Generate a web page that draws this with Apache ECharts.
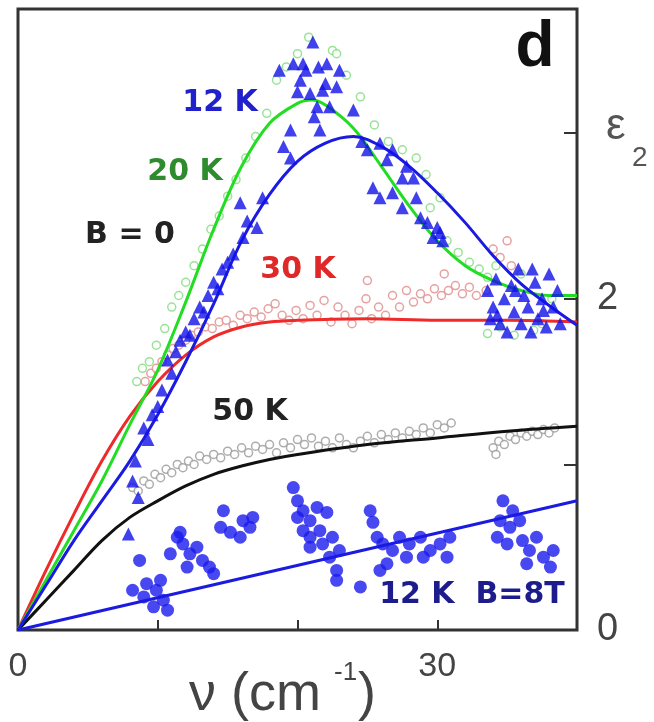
<!DOCTYPE html>
<html>
<head>
<meta charset="utf-8">
<script src="https://cdn.jsdelivr.net/npm/echarts@6/dist/echarts.min.js"></script>
<style>
html,body{margin:0;padding:0;background:#fff;}
#chart{width:654px;height:722px;}
</style>
</head>
<body>
<div id="chart"></div>
<script>
// ---- axis settings ----
const xTickLabels = ['0', '30'];
const yTickLabels = ['0', '2'];

// ---- fitted curves (x, eps2) ----
const fit12K = [[0,0],[2,0.27],[4,0.54],[6,0.78],[8,1.02],[10,1.3],[12,1.62],[14,1.97],[16,2.35],[18,2.63],[20,2.83],[22,2.94],[24,2.98],[26,2.92],[28,2.8],[30,2.64],[32,2.46],[34,2.26],[36,2.09],[38,1.96],[40,1.84]];
const fit20K = [[0,0],[2,0.3],[4,0.6],[6,0.9],[8,1.24],[10,1.57],[12,1.98],[14,2.42],[16,2.8],[18,3.06],[20,3.18],[21,3.2],[22,3.17],[24,3.03],[26,2.8],[28,2.56],[30,2.35],[32,2.2],[34,2.11],[36,2.05],[38,2.02],[40,2.02]];
const fit30K = [[0,0],[2,0.36],[4,0.7],[6,1.02],[8,1.29],[10,1.5],[12,1.66],[14,1.77],[16,1.83],[18,1.86],[20,1.87],[25,1.88],[30,1.87],[35,1.87],[40,1.86]];
const fit50K = [[0,0],[2,0.18],[4,0.36],[6,0.54],[8,0.68],[10,0.78],[12,0.87],[14,0.94],[16,0.99],[18,1.03],[20,1.06],[25,1.12],[30,1.16],[35,1.2],[40,1.23]];
const fit12K8T = [[0,0],[40,0.78]];

// ---- measured points ----
const pts12K = [[7.9,0.58],[8.2,0.9],[8.6,0.8],[8.4,1.02],[9.3,1.15],[9.0,1.22],[9.6,1.3],[10.0,1.35],[10.3,1.45],[10.7,1.63],[11.0,1.55],[11.3,1.68],[11.6,1.75],[12.0,1.8],[12.3,1.78],[12.6,1.88],[13.0,1.95],[13.3,1.92],[13.6,2.02],[14.0,2.1],[14.3,2.06],[14.6,2.18],[15.0,2.22],[15.4,2.27],[15.9,2.58],[16.1,2.37],[16.4,2.47],[17.1,2.43],[17.5,2.61],[19.0,2.92],[19.5,2.85],[19.5,3.02],[21.6,3.02],
  [18.7,3.38],[19.7,3.42],[20.4,3.42],[21.1,3.55],[22.1,3.42],[23.0,3.38],[20.2,3.32],[20.9,3.24],[21.8,3.26],[22.8,3.28],[21.4,3.16],[22.3,3.16],[24.0,3.14],[20.6,3.38],[21.5,3.4],[22.0,3.3],[20.0,3.25],[21.2,3.1],
  [25.0,2.9],[25.9,2.94],[26.8,2.9],[26.4,2.84],[27.8,2.8],[27.5,2.73],[28.3,2.73],[25.4,2.67],[25.9,2.61],[26.8,2.64],[27.5,2.55],[28.5,2.61],[28.8,2.49],[29.3,2.46],[30.0,2.43],[30.2,2.4],[30.4,2.35],[29.7,2.37],[24.6,2.95],
  [33.6,2.05],[34.0,1.95],[34.2,2.12],[34.5,1.85],[34.8,2.0],[35.0,1.8],[35.3,2.08],[35.5,1.92],[35.8,2.18],[36.0,1.85],[36.2,2.02],[36.5,1.95],[36.7,1.8],[37.0,2.1],[37.2,1.88],[37.5,2.0],[37.8,1.83],[38.0,2.15],[38.3,1.95],[38.6,2.05],[34.3,1.9],[35.6,2.05],[36.8,2.18],[33.8,1.88],[37.6,1.93],[38.8,1.85]];
const pts20K = [[8.5,1.5],[8.9,1.58],[9.4,1.62],[9.9,1.72],[10.5,1.82],[11.0,1.95],[11.5,2.02],[12.0,2.1],[12.6,2.2],[13.2,2.3],[13.8,2.42],[14.4,2.5],[15.0,2.62],[15.6,2.72],[16.3,2.85],[17.0,2.98],[17.8,3.12],[18.5,3.32],[19.2,3.4],[20.0,3.48],[20.8,3.58],[22.5,3.5],[22.8,3.48],[23.5,3.35],[24.5,3.22],[25.5,3.05],[26.5,2.95],[27.5,2.9],[28.5,2.85],[29.2,2.75],[29.5,2.55],[30.2,2.61],[30.7,2.35],[31.5,2.28],[32.3,2.22],[33.0,2.18],[33.6,2.13],[33.6,1.79],[34.5,1.83],[35.5,1.78],[36.9,1.81],[37.5,1.85],[38.2,2.0],[34.2,2.2],[36.0,2.15]];
const pts30K = [[9.1,1.5],[9.5,1.55],[9.9,1.58],[10.3,1.62],[10.7,1.66],[11.1,1.7],[11.5,1.72],[12.0,1.75],[12.4,1.78],[12.9,1.8],[13.4,1.83],[13.9,1.82],[14.4,1.86],[14.9,1.87],[15.4,1.84],[15.9,1.9],[16.4,1.88],[16.9,1.92],[17.4,1.89],[17.9,1.94],[18.4,1.97],[18.9,1.9],[19.4,1.87],[19.9,1.93],[20.4,1.88],[20.9,1.96],[21.4,1.9],[21.9,1.99],[22.4,1.86],[22.9,1.95],[23.4,1.9],[23.9,1.85],[24.4,1.93],[24.9,2.0],[25.3,1.88],[25.8,1.95],[26.3,1.9],[26.8,2.02],[27.3,1.95],[27.8,2.05],[28.3,1.98],[28.8,2.03],[29.3,2.0],[29.8,2.06],[30.3,2.02],[30.5,2.15],[30.8,2.05],[31.3,2.08],[31.8,2.03],[32.3,2.07],[32.8,2.02],[25.0,2.11],[34.0,2.3],[34.5,2.25],[35.0,2.35],[35.3,2.2],[33.5,2.05]];
const pts50K = [[8.2,0.86],[8.6,0.84],[9.0,0.9],[9.4,0.88],[9.8,0.94],[10.2,0.92],[10.6,0.97],[11.0,0.95],[11.4,1.0],[11.8,0.98],[12.2,1.02],[12.6,1.0],[13.0,1.05],[13.5,1.03],[14.0,1.06],[14.5,1.04],[15.0,1.08],[15.5,1.06],[16.0,1.1],[16.5,1.07],[17.0,1.11],[17.5,1.09],[18.0,1.12],[18.5,1.07],[19.0,1.13],[19.5,1.1],[20.0,1.15],[20.5,1.12],[21.0,1.16],[21.5,1.11],[22.0,1.14],[22.5,1.1],[23.0,1.16],[23.5,1.12],[24.0,1.1],[24.5,1.14],[25.0,1.17],[25.5,1.13],[26.0,1.18],[26.5,1.15],[27.0,1.19],[27.5,1.16],[28.0,1.2],[28.5,1.18],[29.0,1.22],[29.5,1.19],[30.0,1.24],[30.5,1.22],[31.0,1.25],[34.0,1.1],[34.4,1.14],[34.8,1.12],[35.2,1.17],[35.6,1.15],[36.0,1.19],[36.4,1.17],[36.8,1.2],[37.2,1.18],[37.6,1.21],[38.0,1.19],[38.4,1.22],[34.2,1.06]];
const pts12K8T = [[8.2,0.24],[9.2,0.28],[9.9,0.24],[10.4,0.18],[9.7,0.14],[10.7,0.12],[9.0,0.2],[10.2,0.3],[8.7,0.42],
  [10.9,0.46],[11.4,0.56],[11.8,0.52],[12.3,0.46],[12.8,0.5],[13.2,0.42],[13.7,0.38],[14.0,0.34],[12.1,0.38],[11.6,0.59],
  [14.7,0.72],[14.5,0.62],[15.2,0.59],[15.9,0.56],[16.6,0.62],[16.8,0.68],[16.1,0.66],
  [19.7,0.86],[20.0,0.78],[20.4,0.72],[20.0,0.68],[20.9,0.66],[21.4,0.74],[22.1,0.71],[21.6,0.6],[20.9,0.56],[21.8,0.52],[22.5,0.56],[23.0,0.48],[22.3,0.44],[22.8,0.36],[22.8,0.3],[20.9,0.5],[20.4,0.6],
  [24.5,0.26],[25.9,0.36],[26.4,0.4],[25.2,0.72],[25.4,0.65],[25.7,0.56],[26.1,0.52],[26.8,0.48],[27.3,0.56],[28.0,0.52],[27.8,0.44],[28.8,0.56],[29.5,0.48],[30.2,0.52],[30.9,0.56],[29.0,0.44],[30.7,0.44],
  [34.7,0.78],[34.5,0.66],[35.2,0.62],[35.9,0.66],[34.3,0.56],[35.0,0.52],[36.1,0.54],[36.6,0.48],[37.1,0.56],[37.6,0.44],[36.4,0.4],[38.1,0.38],[38.3,0.48],[35.4,0.72]];

const chart = echarts.init(document.getElementById('chart'));
const lab = 'Liberation Sans, Arial, sans-serif';
const bold = 'DejaVu Sans, Liberation Sans, sans-serif';

function line(data, color, z) {
  return {type:'line', data:data, smooth:0.35, showSymbol:false, symbol:'none',
    lineStyle:{color:color, width:3}, z:z||3, silent:true, animation:false};
}
function pts(data, symbol, size, color, z, empty) {
  return {type:'scatter', data:data, symbol:symbol, symbolSize:size, z:z,
    itemStyle: empty ? {color:'#fff', borderColor:color, borderWidth:1.5} : {color:color},
    silent:true, animation:false};
}

chart.setOption({
  animation:false,
  backgroundColor:'#fff',
  grid:{left:18, right:77, top:9, bottom:92, show:true, borderColor:'#333', borderWidth:3, backgroundColor:'transparent'},
  xAxis:{type:'value', min:0, max:40, interval:10, position:'bottom',
    axisLine:{show:false, onZero:false},
    axisTick:{show:true, inside:true, length:10, lineStyle:{color:'#333', width:2}},
    splitLine:{show:false},
    axisLabel:{fontSize:34, color:'#444', fontFamily:lab, margin:20,
      formatter:function(v){ const s=String(v); return xTickLabels.indexOf(s)>=0 ? s : ''; }}
  },
  yAxis:{type:'value', min:0, max:3.75, interval:1, position:'right',
    axisLine:{show:false, onZero:false},
    axisTick:{show:true, inside:true, length:13, lineStyle:{color:'#333', width:2}},
    splitLine:{show:false},
    axisLabel:{fontSize:38, color:'#444', fontFamily:lab, margin:20,
      formatter:function(v){ const s=String(v); return yTickLabels.indexOf(s)>=0 ? s : ''; }}
  },
  series:[
    pts(pts20K, 'circle', 8, '#7fdc7f', 2, true),
    pts(pts30K, 'circle', 8, '#e08a8a', 2, true),
    pts(pts50K, 'circle', 8, '#999999', 2, true),
    pts(pts12K8T, 'circle', 13, '#1a1aee', 2, false),
    line(fit30K, '#ee2a2a', 3),
    line(fit20K, '#22dd22', 3),
    line(fit50K, '#111111', 3),
    line(fit12K, '#1a1ae0', 3),
    line(fit12K8T, '#1a1ae0', 3),
    pts(pts12K, 'triangle', 13, '#1010e8', 4, false)
  ],
  graphic:[
    {type:'text', x:535, y:48, style:{text:'d', font:'bold 64px '+lab, fill:'#111', align:'center', verticalAlign:'middle'}},
    {type:'text', x:220, y:103, style:{text:'12 K', font:'bold 30px '+bold, fill:'#2020cc', align:'center', verticalAlign:'middle'}},
    {type:'text', x:185, y:172, style:{text:'20 K', font:'bold 30px '+bold, fill:'#2e8b2e', align:'center', verticalAlign:'middle'}},
    {type:'text', x:130, y:235, style:{text:'B = 0', font:'bold 30px '+bold, fill:'#222', align:'center', verticalAlign:'middle'}},
    {type:'text', x:298, y:270, style:{text:'30 K', font:'bold 30px '+bold, fill:'#e02828', align:'center', verticalAlign:'middle'}},
    {type:'text', x:250, y:412, style:{text:'50 K', font:'bold 30px '+bold, fill:'#222', align:'center', verticalAlign:'middle'}},
    {type:'text', x:472, y:595, style:{text:'12 K  B=8T', font:'bold 30px '+bold, fill:'#1c1c8c', align:'center', verticalAlign:'middle'}},
    {type:'text', x:606, y:127, style:{text:'ε', font:'44px '+lab, fill:'#555', align:'left', verticalAlign:'middle'}},
    {type:'text', x:632, y:158, style:{text:'2', font:'28px '+lab, fill:'#555', align:'left', verticalAlign:'middle'}},
    {type:'text', x:189, y:695, style:{text:'ν (cm', font:'54px '+lab, fill:'#444', align:'left', verticalAlign:'middle'}},
    {type:'text', x:334, y:673, style:{text:'-1', font:'26px '+lab, fill:'#444', align:'left', verticalAlign:'middle'}},
    {type:'text', x:358, y:695, style:{text:')', font:'54px '+lab, fill:'#444', align:'left', verticalAlign:'middle'}}
  ]
});
</script>
</body>
</html>
